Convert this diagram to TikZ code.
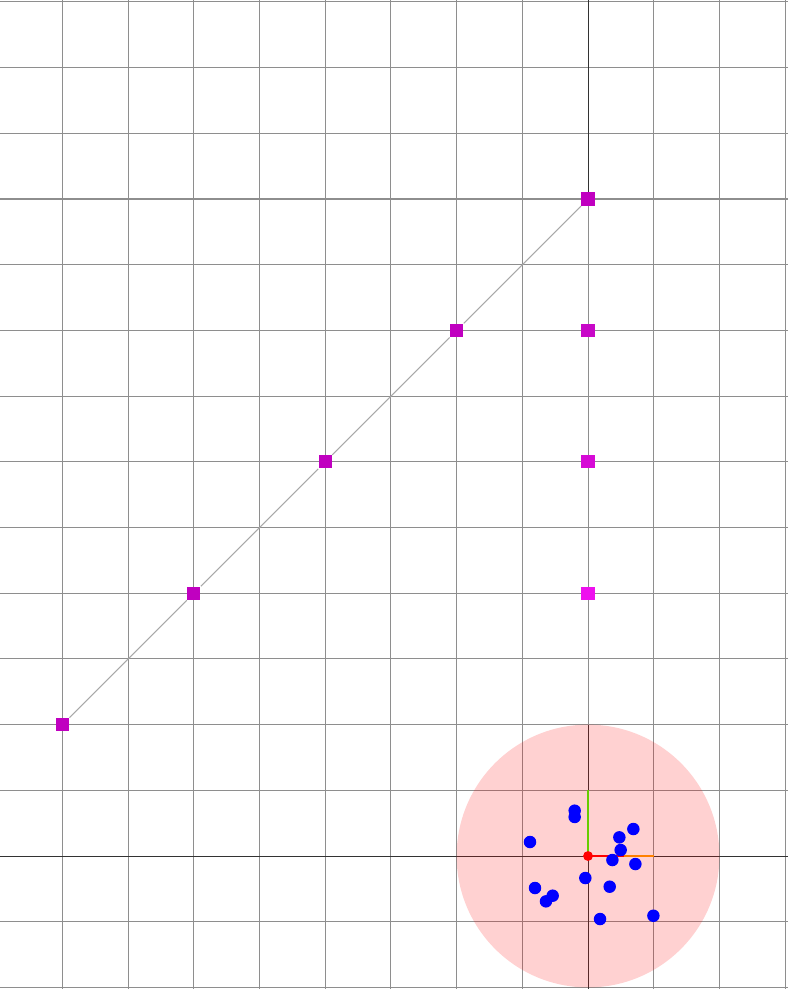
\documentclass[tikz,border=0pt]{standalone}
\usepackage{tikz}
\definecolor{gridgray}{HTML}{8E8E8E}
\definecolor{axisdark}{HTML}{333333}
\definecolor{linkgray}{HTML}{A8A8A8}
\definecolor{sqA}{HTML}{C000C0}
\definecolor{sqB}{HTML}{C808C8}
\definecolor{sqC}{HTML}{D60AD6}
\definecolor{sqD}{HTML}{EE10EE}
\definecolor{ygreen}{HTML}{66CC00}

\begin{document}
\begin{tikzpicture}[x=1cm,y=1cm,
  sq/.style={fill=#1,draw=none,inner sep=0pt,minimum size=0.2cm},
  sq/.default=sqA,
  bdot/.style={circle,fill=blue,draw=none,inner sep=0pt,minimum size=0.19cm},
  odot/.style={circle,fill=red,draw=none,inner sep=0pt,minimum size=0.15cm}]
\useasboundingbox (-8.95,-2.024) rectangle (3.029,13.029);
% ---- grid and axes ----
\draw[gridgray,line width=0.45pt] (-9,-3) grid (4,14);
\draw[axisdark,line width=0.45pt] (-9,0) -- (4,0);
\draw[axisdark,line width=0.45pt] (0,-3) -- (0,2);
\draw[axisdark,line width=0.45pt] (0,10) -- (0,14);
% ---- shaded disc ----
\fill[red,opacity=0.18] (0,0) circle (2);
% ---- squares: diagonal chain and column ----
\node[sq] (d1) at (-8,2) {};
\node[sq] (d2) at (-6,4) {};
\node[sq] (d3) at (-4,6) {};
\node[sq] (d4) at (-2,8) {};
\node[sq] (d5) at (0,10) {};
\draw[linkgray,line width=0.45pt] (d1) -- (d2) -- (d3) -- (d4) -- (d5);
\node[sq=sqB] (c8) at (0,8) {};
\node[sq=sqC] (c6) at (0,6) {};
\node[sq=sqD] (c4) at (0,4) {};
% ---- local frame ----
\coordinate (oy) at (0,1);
\coordinate (oxm) at (0.55,0);
\coordinate (ox) at (1,0);
\coordinate (o) at (0,0);
\draw[ygreen,line width=0.5pt] (o) -- (oy);
\draw[red,line width=0.5pt] (o) -- (oxm);
\draw[orange,line width=0.5pt] (oxm) -- (ox);
% ---- blue points ----
\foreach \x/\y [count=\i] in {-0.203/0.690, -0.203/0.594, -0.883/0.213, 0.477/0.284,
    0.690/0.411, 0.497/0.091, 0.371/-0.061, 0.721/-0.122, -0.041/-0.335,
    0.330/-0.467, -0.807/-0.487, -0.538/-0.604, -0.640/-0.690, 0.183/-0.959,
    0.995/-0.909}
  \node[bdot] (b\i) at (\x,\y) {};
\node[odot] (org) at (o) {};
\end{tikzpicture}
\end{document}
